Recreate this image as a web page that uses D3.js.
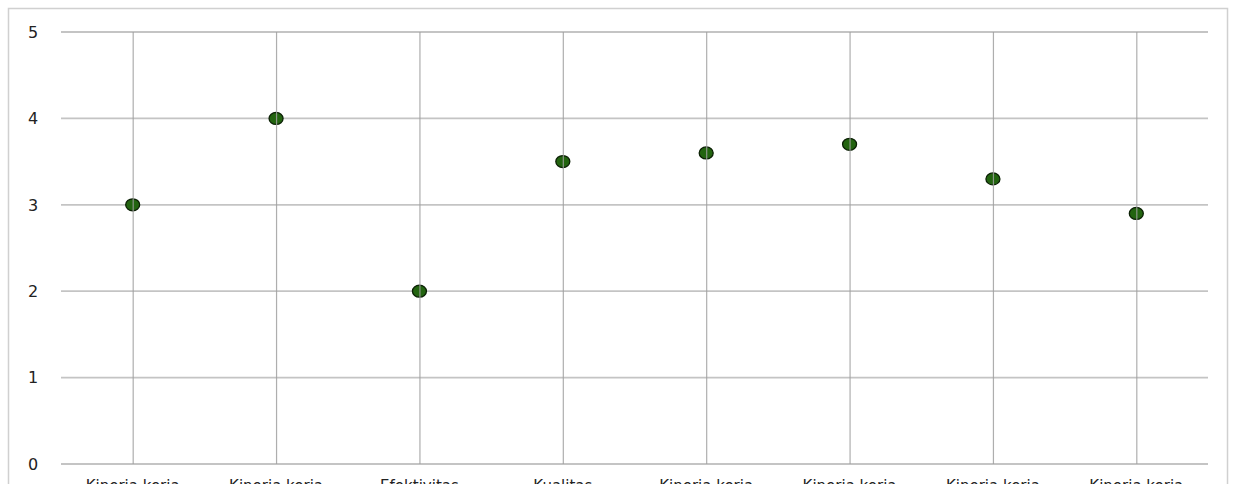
<!DOCTYPE html>
<html>
<head>
<meta charset="utf-8">
<script src="https://cdn.jsdelivr.net/npm/d3@7"></script>
<style>
  html, body { margin: 0; padding: 0; background: #fff; overflow: hidden; }
  svg { display: block; }
</style>
</head>
<body>
<svg id="chart" width="1236" height="484"></svg>
<script>
const categories = [
  "Kinerja kerja fungsional",
  "Kinerja kerja fasilitas",
  "Efektivitas Fungsi",
  "Kualitas Kinerja",
  "Kinerja kerja fungsi",
  "Kinerja kerja formal",
  "Kinerja kerja Produksi",
  "Kinerja kerja fisik"
];
const values = [3, 4, 2, 3.5, 3.6, 3.7, 3.3, 2.9];
const yTicks = [0, 1, 2, 3, 4, 5];

(function () {
const svg = d3.select("#chart");
const plotLeft = 61, plotRight = 1208, plotTop = 32, plotBottom = 464;

// outer border
svg.append("rect")
  .attr("x", 8.5).attr("y", 8.5)
  .attr("width", 1219).attr("height", 500)
  .attr("fill", "#fff").attr("stroke", "#d0d0d0").attr("stroke-width", 1.5);

const x = d3.scaleBand().domain(categories).range([plotLeft, plotRight]).padding(0);
const y = d3.scaleLinear().domain([0, 5]).range([plotBottom, plotTop]);

// horizontal gridlines
svg.append("g").selectAll("line").data(yTicks).join("line")
  .attr("x1", plotLeft).attr("x2", plotRight)
  .attr("y1", d => y(d)).attr("y2", d => y(d))
  .attr("stroke", "#c4c4c4").attr("stroke-width", 1.8);

// y tick labels
svg.append("g").selectAll("text").data(yTicks).join("text")
  .attr("x", 33).attr("y", d => y(d))
  .attr("dy", "0.36em")
  .attr("text-anchor", "middle")
  .attr("font-family", "Verdana, 'DejaVu Sans', sans-serif")
  .attr("font-size", 16)
  .attr("fill", "#222")
  .text(d => d);

// points
svg.append("g").selectAll("ellipse").data(values).join("ellipse")
  .attr("cx", (d, i) => x(categories[i]) + x.bandwidth() / 2)
  .attr("cy", d => y(d))
  .attr("rx", 7).attr("ry", 6)
  .attr("fill", "#236410")
  .attr("stroke", "#0b2005").attr("stroke-width", 1.3);

// vertical gridlines (drawn over markers)
svg.append("g").selectAll("line").data(categories).join("line")
  .attr("x1", d => x(d) + x.bandwidth() / 2 + 0.5)
  .attr("x2", d => x(d) + x.bandwidth() / 2 + 0.5)
  .attr("y1", plotTop).attr("y2", plotBottom)
  .attr("stroke", "#a0a0a0").attr("stroke-width", 1.2)
  .attr("stroke-opacity", 0.85);

// category labels, wrapped (cut off at the bottom edge as in the reference)
const labels = svg.append("g").selectAll("text").data(categories).join("text")
  .attr("x", d => x(d) + x.bandwidth() / 2)
  .attr("y", 491)
  .attr("text-anchor", "middle")
  .attr("font-family", "Verdana, 'DejaVu Sans', sans-serif")
  .attr("font-size", 15)
  .attr("fill", "#222");
labels.each(function (d) {
  const words = d.split(" ");
  const lines = words.length > 2 ? [words.slice(0, 2).join(" "), words.slice(2).join(" ")] : [words[0], words.slice(1).join(" ")];
  const t = d3.select(this);
  lines.forEach((ln, j) => {
    t.append("tspan")
      .attr("x", x(d) + x.bandwidth() / 2)
      .attr("dy", j === 0 ? 0 : "1.2em")
      .text(ln);
  });
});
})();
</script>
</body>
</html>
